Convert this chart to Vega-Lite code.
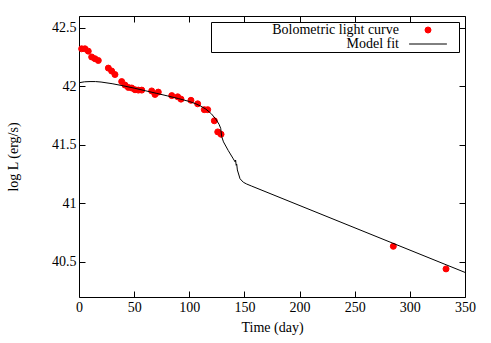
{
  "$schema": "https://vega.github.io/schema/vega-lite/v6.json",
  "width": 386,
  "height": 281,
  "autosize": "none",
  "padding": {"left": 79, "top": 16, "right": 26, "bottom": 46},
  "config": {
    "font": "Liberation Serif",
    "view": {"stroke": null},
    "axis": {
      "grid": false,
      "domainColor": "black",
      "domainWidth": 1,
      "tickColor": "black",
      "tickSize": -6,
      "labelFlush": false,
      "labelOverlap": false,
      "labelFont": "Liberation Serif",
      "labelFontSize": 14,
      "labelColor": "black",
      "titleFont": "Liberation Serif",
      "titleFontSize": 14,
      "titleFontWeight": "normal",
      "titleColor": "black"
    }
  },
  "datasets": {
    "obs": [
      {"t": 2.4, "L": 42.32, "series": "Bolometric light curve"},
      {"t": 5.4, "L": 42.32, "series": "Bolometric light curve"},
      {"t": 8.4, "L": 42.30, "series": "Bolometric light curve"},
      {"t": 11.5, "L": 42.25, "series": "Bolometric light curve"},
      {"t": 14.5, "L": 42.235, "series": "Bolometric light curve"},
      {"t": 17.5, "L": 42.22, "series": "Bolometric light curve"},
      {"t": 26.6, "L": 42.155, "series": "Bolometric light curve"},
      {"t": 29.6, "L": 42.13, "series": "Bolometric light curve"},
      {"t": 32.6, "L": 42.10, "series": "Bolometric light curve"},
      {"t": 38.7, "L": 42.04, "series": "Bolometric light curve"},
      {"t": 41.7, "L": 42.01, "series": "Bolometric light curve"},
      {"t": 44.7, "L": 41.99, "series": "Bolometric light curve"},
      {"t": 47.8, "L": 41.985, "series": "Bolometric light curve"},
      {"t": 50.8, "L": 41.97, "series": "Bolometric light curve"},
      {"t": 53.8, "L": 41.967, "series": "Bolometric light curve"},
      {"t": 56.9, "L": 41.967, "series": "Bolometric light curve"},
      {"t": 65.9, "L": 41.96, "series": "Bolometric light curve"},
      {"t": 68.9, "L": 41.93, "series": "Bolometric light curve"},
      {"t": 71.9, "L": 41.95, "series": "Bolometric light curve"},
      {"t": 84.1, "L": 41.92, "series": "Bolometric light curve"},
      {"t": 89.5, "L": 41.91, "series": "Bolometric light curve"},
      {"t": 92.5, "L": 41.89, "series": "Bolometric light curve"},
      {"t": 101.5, "L": 41.88, "series": "Bolometric light curve"},
      {"t": 107.6, "L": 41.85, "series": "Bolometric light curve"},
      {"t": 113.6, "L": 41.80, "series": "Bolometric light curve"},
      {"t": 116.7, "L": 41.80, "series": "Bolometric light curve"},
      {"t": 122.7, "L": 41.705, "series": "Bolometric light curve"},
      {"t": 125.8, "L": 41.61, "series": "Bolometric light curve"},
      {"t": 128.8, "L": 41.59, "series": "Bolometric light curve"},
      {"t": 285, "L": 40.633, "series": "Bolometric light curve"},
      {"t": 332.8, "L": 40.44, "series": "Bolometric light curve"}
    ],
    "model": [
      {"t": 0, "L": 42.03}, {"t": 5, "L": 42.038}, {"t": 10, "L": 42.04}, {"t": 15, "L": 42.04},
      {"t": 20, "L": 42.036}, {"t": 30, "L": 42.022}, {"t": 40, "L": 42.004}, {"t": 50, "L": 41.984},
      {"t": 60, "L": 41.962}, {"t": 70, "L": 41.94}, {"t": 80, "L": 41.918}, {"t": 90, "L": 41.895},
      {"t": 100, "L": 41.87}, {"t": 106, "L": 41.85}, {"t": 110, "L": 41.832}, {"t": 115, "L": 41.805},
      {"t": 120, "L": 41.765}, {"t": 124, "L": 41.72}, {"t": 127, "L": 41.675}, {"t": 128.5, "L": 41.64},
      {"t": 129.4, "L": 41.57}, {"t": 131, "L": 41.525}, {"t": 135.4, "L": 41.45}, {"t": 139.9, "L": 41.38},
      {"t": 141.5, "L": 41.355}, {"t": 142, "L": 41.37}, {"t": 142.5, "L": 41.325}, {"t": 143, "L": 41.335},
      {"t": 143.6, "L": 41.285}, {"t": 146, "L": 41.21}, {"t": 149, "L": 41.18}, {"t": 152, "L": 41.165},
      {"t": 156.6, "L": 41.147}, {"t": 350, "L": 40.41}
    ]
  },
  "layer": [
    {
      "data": {"name": "obs"},
      "mark": {"type": "point", "filled": false, "fill": "#ff0000", "strokeWidth": 1, "size": 36, "opacity": 1},
      "encoding": {
        "x": {"field": "t", "type": "quantitative", "scale": {"domain": [0, 350], "nice": false}, "axis": null},
        "y": {"field": "L", "type": "quantitative", "scale": {"domain": [40.2, 42.6], "nice": false, "zero": false}, "axis": null},
        "color": {
          "field": "series", "type": "nominal",
          "scale": {"domain": ["Bolometric light curve", "Model fit"], "range": ["#ff0000", "#000000"]},
          "legend": {
            "title": null,
            "orient": "top-right",
            "offset": 6,
            "strokeColor": "black",
            "fillColor": "white",
            "padding": 1,
            "labelFont": "Liberation Serif",
            "labelFontSize": 14,
            "labelColor": "black",
            "labelAlign": "right",
            "labelLimit": 400,
            "labelOffset": -36,
            "symbolOffset": 209,
            "symbolSize": 36,
            "symbolStrokeWidth": 1,
            "rowPadding": -1
          }
        },
        "shape": {
          "field": "series", "type": "nominal",
          "scale": {"domain": ["Bolometric light curve", "Model fit"], "range": ["circle", "M-6.3,0H6.3M9.2,0"]}
        }
      }
    },
    {
      "data": {"name": "model"},
      "mark": {"type": "line", "color": "black", "strokeWidth": 1},
      "encoding": {
        "x": {"field": "t", "type": "quantitative", "scale": {"domain": [0, 350], "nice": false},
              "axis": {"orient": "bottom", "values": [0, 50, 100, 150, 200, 250, 300, 350], "title": "Time (day)", "labelPadding": 9, "titlePadding": 6}},
        "y": {"field": "L", "type": "quantitative", "scale": {"domain": [40.2, 42.6], "nice": false, "zero": false},
              "axis": {"orient": "left", "values": [40.5, 41, 41.5, 42, 42.5], "format": "~g", "title": "log L (erg/s)", "labelPadding": 9, "titlePadding": 31}}
      }
    },
    {
      "data": {"name": "model"},
      "mark": {"type": "point", "opacity": 0},
      "encoding": {
        "x": {"field": "t", "type": "quantitative", "scale": {"domain": [0, 350], "nice": false},
              "axis": {"orient": "top", "values": [0, 50, 100, 150, 200, 250, 300, 350], "labels": false, "title": null}},
        "y": {"field": "L", "type": "quantitative", "scale": {"domain": [40.2, 42.6], "nice": false, "zero": false},
              "axis": {"orient": "right", "values": [40.5, 41, 41.5, 42, 42.5], "labels": false, "title": null}}
      }
    }
  ],
  "resolve": {"axis": {"x": "independent", "y": "independent"}}
}
